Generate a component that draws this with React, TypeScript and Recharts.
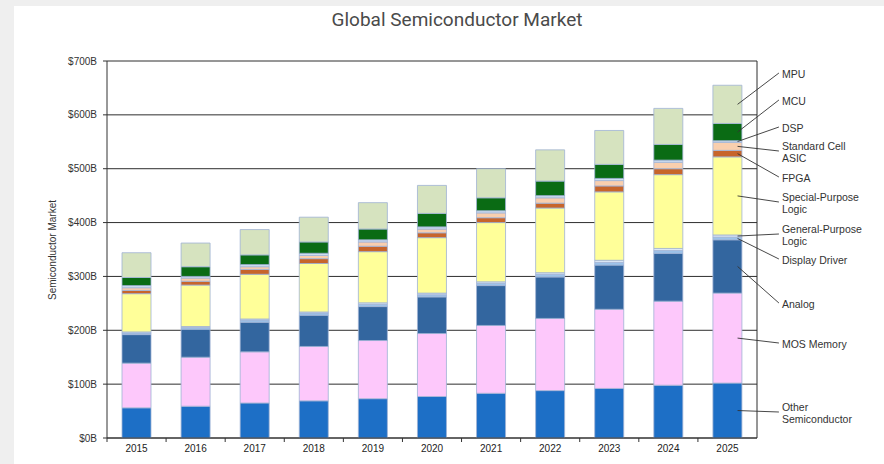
import { BarChart, Bar, XAxis, YAxis, CartesianGrid, LabelList } from "recharts";

const years = ["2015", "2016", "2017", "2018", "2019", "2020", "2021", "2022", "2023", "2024", "2025"];

// $B per segment, bottom of the stack first
const otherSemi = [56, 59, 65, 69, 73, 77, 83, 88, 92, 98, 102];
const mosMemory = [83, 91, 95, 101, 108, 117, 126, 134, 147, 156, 167];
const analog = [53, 52, 55, 58, 63, 68, 74, 77, 82, 89, 99];
const displayDriver = [3, 3, 4, 4, 4, 4, 4, 5, 5, 5, 5];
const generalLogic = [2, 2, 2, 2, 3, 3, 3, 3, 4, 4, 4];
const specialLogic = [71, 77, 83, 90, 95, 103, 110, 120, 127, 137, 145];
const fpga = [6, 7, 9, 9, 10, 9, 9, 9, 11, 11, 12];
const stdCellAsic = [5, 6, 5, 6, 8, 7, 9, 10, 10, 12, 15];
const dsp = [4, 3, 4, 4, 4, 4, 4, 4, 4, 4, 3];
const mcu = [15, 18, 18, 21, 20, 25, 24, 27, 26, 29, 32];
const mpu = [46, 44, 47, 46, 49, 52, 54, 58, 63, 67, 71];

const yTicks = [0, 100, 200, 300, 400, 500, 600, 700];

const series = [
  { key: "other", values: otherSemi, color: "#1d6fc6", lines: ["Other", "Semiconductor"], ly: 413 },
  { key: "mos", values: mosMemory, color: "#fdc8fb", lines: ["MOS Memory"], ly: 344 },
  { key: "analog", values: analog, color: "#33669f", lines: ["Analog"], ly: 304 },
  { key: "display", values: displayDriver, color: "#9cc3ea", lines: ["Display Driver"], ly: 260 },
  { key: "general", values: generalLogic, color: "#dde8f6", lines: ["General-Purpose", "Logic"], ly: 235 },
  { key: "special", values: specialLogic, color: "#ffff99", lines: ["Special-Purpose", "Logic"], ly: 203 },
  { key: "fpga", values: fpga, color: "#c7652b", lines: ["FPGA"], ly: 178 },
  { key: "asic", values: stdCellAsic, color: "#f9cfae", lines: ["Standard  Cell", "ASIC"], ly: 152 },
  { key: "dsp", values: dsp, color: "#d0e0f3", lines: ["DSP"], ly: 128 },
  { key: "mcu", values: mcu, color: "#0a6b14", lines: ["MCU"], ly: 101 },
  { key: "mpu", values: mpu, color: "#d6e3bf", lines: ["MPU"], ly: 74 },
];

const data = years.map((year, i) => {
  const row: any = { year };
  series.forEach((s) => (row[s.key] = s.values[i]));
  return row;
});

const LAST = years.length - 1;
const LINE_H = 12;

const makeCallout = (s: (typeof series)[number]) => (p: any) => {
  if (p.index !== LAST) return null;
  const vb = p.viewBox ?? p;
  const x0 = vb.x + vb.width * 0.85;
  const y0 = vb.y + vb.height / 2;
  const tx = vb.x + vb.width + 40;
  const top = s.ly - ((s.lines.length - 1) * LINE_H) / 2;
  return (
    <g>
      <line x1={x0} y1={y0} x2={tx - 3} y2={s.ly - 1} stroke="#333" strokeWidth={0.9} />
      <text x={tx} fontSize={10.5} fill="#333" fontFamily="Liberation Sans, Arial, sans-serif">
        {s.lines.map((t, k) => (
          <tspan key={k} x={tx} y={top + k * LINE_H} dy="0.35em">
            {t}
          </tspan>
        ))}
      </text>
    </g>
  );
};

function YearTick(props: any) {
  const { x, y, payload } = props;
  const half = payload?.offset ?? 29.5;
  return (
    <g>
      <line x1={x - half} x2={x - half} y1={y - 4} y2={y} stroke="#333" />
      <text x={x} y={y + 10} textAnchor="middle" fontSize={10} fill="#222" fontFamily="Liberation Sans, Arial, sans-serif">
        {payload.value}
      </text>
    </g>
  );
}

export default function App() {
  return (
    <div style={{ position: "absolute", left: 0, top: 0, width: 884, height: 464, background: "#efefef", overflow: "hidden" }}>
      <div style={{ position: "absolute", left: 14, top: 6, width: 870, height: 458, background: "#fff" }} />
      <div
        style={{
          position: "absolute",
          left: 0,
          width: 914,
          top: 8,
          textAlign: "center",
          fontFamily: "Roboto, 'Liberation Sans', sans-serif",
          fontSize: 19,
          color: "#4a4a4a",
        }}
      >
        Global Semiconductor Market
      </div>
      <div
        style={{
          position: "absolute",
          left: 52,
          top: 250,
          transform: "translate(-50%, -50%) rotate(-90deg)",
          whiteSpace: "nowrap",
          fontFamily: "Liberation Sans, Arial, sans-serif",
          fontSize: 10,
          color: "#333",
        }}
      >
        Semiconductor Market
      </div>
      <div style={{ position: "absolute", left: 0, top: 0 }}>
        <BarChart
          width={884}
          height={464}
          data={data}
          margin={{ top: 61, right: 127, bottom: 6, left: 47 }}
          barSize={29}
        >
          <CartesianGrid
            stroke="#2e2e2e"
            verticalCoordinatesGenerator={({ offset }: any) => [offset.left + offset.width]}
          />
          <XAxis
            dataKey="year"
            interval={0}
            height={20}
            tickSize={4}
            tickMargin={0}
            tickLine={{ stroke: "none" }}
            axisLine={{ stroke: "#333" }}
            tick={<YearTick />}
          />
          <YAxis
            width={60}
            domain={[0, 700]}
            ticks={yTicks}
            interval={0}
            tickSize={4}
            tickMargin={6}
            axisLine={{ stroke: "#333" }}
            tickLine={{ stroke: "#333" }}
            tick={{ fontSize: 10, fill: "#333", fontFamily: "Liberation Sans, Arial, sans-serif" }}
            tickFormatter={(v: number) => `$${v}B`}
          />
          {series.map((s) => (
            <Bar
              key={s.key}
              dataKey={s.key}
              stackId="m"
              fill={s.color}
              stroke="#9fb2d4"
              strokeWidth={0.8}
              isAnimationActive={false}
            >
              <LabelList dataKey={s.key} content={makeCallout(s)} />
            </Bar>
          ))}
        </BarChart>
      </div>
    </div>
  );
}
